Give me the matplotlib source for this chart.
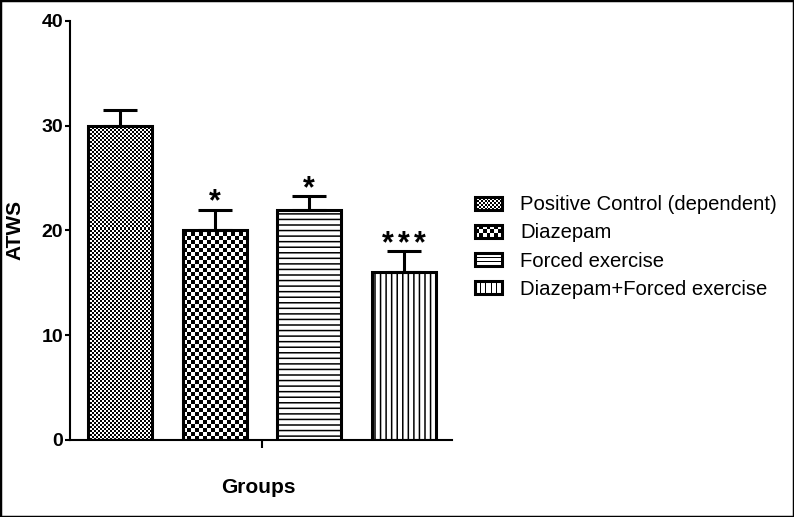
import matplotlib.pyplot as plt
import numpy as np
from matplotlib.patches import Rectangle
from matplotlib.legend_handler import HandlerBase

plt.rcParams['font.family'] = ['Liberation Sans', 'DejaVu Sans']
plt.rcParams['hatch.linewidth'] = 1.1

# dados
groups = ['Positive Control (dependent)', 'Diazepam', 'Forced exercise',
          'Diazepam+Forced exercise']
means = [30, 20, 22, 16]
sem = [1.5, 2.0, 1.3, 2.0]
n_stars = [0, 1, 1, 3]
kinds = ['fine', 'checker', 'hlines', 'vlines']


def checker_array(nx, ny):
    i, j = np.indices((ny, nx))
    return (i + j) % 2


class PatternHandler(HandlerBase):
    # desenha o pequeno quadrado da legenda com o padrao
    def __init__(self, kind):
        super().__init__()
        self.kind = kind

    def create_artists(self, legend, orig_handle, xdescent, ydescent,
                       width, height, fontsize, trans):
        x0, y0 = -xdescent, -ydescent
        arts = [Rectangle((x0, y0), width, height, fc='white', ec='none',
                          transform=trans)]
        if self.kind in ('fine', 'checker'):
            n = 14 if self.kind == 'fine' else 7
            cw = width / n
            m = max(int(round(height / cw)), 1)
            ch = height / m
            for a in range(n):
                for b in range(m):
                    if (a + b) % 2:
                        arts.append(Rectangle((x0 + a * cw, y0 + b * ch), cw, ch,
                                              fc='black', ec='none', transform=trans))
        elif self.kind == 'hlines':
            for k in range(1, 3):
                yy = y0 + height * k / 3
                arts.append(Rectangle((x0, yy - 0.4), width, 0.8, fc='black',
                                      ec='none', transform=trans))
        else:
            for k in range(1, 5):
                xx = x0 + width * k / 5
                arts.append(Rectangle((xx - 0.4, y0), 0.8, height, fc='black',
                                      ec='none', transform=trans))
        arts.append(Rectangle((x0, y0), width, height, fc='none', ec='black',
                              lw=2.2, transform=trans))
        return arts


fig = plt.figure(figsize=(7.94, 5.17), dpi=100)
ax = fig.add_axes([70 / 794, 1 - 440 / 517, 382 / 794, 419 / 517])

x = np.arange(len(groups))
ax.set_xlim(-0.53, 3.51)
ax.set_ylim(0, 40)

bars = ax.bar(x, means, width=0.676, facecolor='none', edgecolor='black',
              linewidth=2.2, zorder=2)
bars[2].set_hatch('---')
bars[3].set_hatch('|||')

# preenchimento xadrez com imagem recortada pela barra
inv = ax.transData.inverted()
for r, kind in zip(bars, kinds):
    if kind not in ('fine', 'checker'):
        continue
    x0, w, h = r.get_x(), r.get_width(), r.get_height()
    p0 = np.round(ax.transData.transform((x0, 0)))
    p1 = ax.transData.transform((x0 + w, h))
    cell = 2 if kind == 'fine' else 4
    nx = int(np.ceil((p1[0] - p0[0]) / cell)) + 1
    ny = int(np.ceil((p1[1] - p0[1]) / cell)) + 1
    q0 = inv.transform(p0)
    q1 = inv.transform(p0 + np.array([nx * cell, ny * cell]))
    im = ax.imshow(checker_array(nx, ny), extent=(q0[0], q1[0], q0[1], q1[1]),
                   cmap='gray_r', interpolation='nearest', aspect='auto',
                   origin='lower', zorder=1)
    im.set_clip_path(r)

ax.set_xlim(-0.53, 3.51)
ax.set_ylim(0, 40)

ax.errorbar(x, means, yerr=[np.zeros(len(sem)), sem], fmt='none',
            ecolor='black', elinewidth=2.2, capsize=12, capthick=2.2,
            zorder=1.8)

# asteriscos de significancia
for xi, m, s, n in zip(x, means, sem, n_stars):
    for k in range(n):
        dx = (k - (n - 1) / 2) * 11.2
        ax.annotate('*', (xi, m + s), xytext=(dx, -0.6),
                    textcoords='offset points', ha='center', va='baseline',
                    fontsize=22, fontweight='bold')

ax.spines['top'].set_visible(False)
ax.spines['right'].set_visible(False)
ax.spines['left'].set_linewidth(1.5)
ax.spines['bottom'].set_linewidth(1.5)

ax.set_yticks([0, 10, 20, 30, 40])
ax.tick_params(axis='y', length=3.6, width=1.5, pad=1.5, labelsize=14)
for lab in ax.get_yticklabels():
    lab.set_fontweight('bold')
ax.set_xticks([1.5])
ax.set_xticklabels([''])
ax.tick_params(axis='x', length=5.8, width=1.5)

ax.set_ylabel('ATWS', fontsize=15, fontweight='bold')
ax.yaxis.set_label_coords(24 / 794, 1 - 230 / 517, transform=fig.transFigure)
ax.set_xlabel('Groups', fontsize=15, fontweight='bold')
ax.xaxis.set_label_coords(258 / 794, 1 - 478 / 517, transform=fig.transFigure)

leg = ax.legend(list(bars), groups, loc='center left',
                bbox_to_anchor=(475 / 794, 1 - 247 / 517),
                bbox_transform=fig.transFigure, frameon=False, fontsize=14.6,
                handlelength=1.33, handleheight=0.6, handletextpad=0.9,
                labelspacing=0.45, borderpad=0, borderaxespad=0,
                handler_map={b: PatternHandler(k) for b, k in zip(bars, kinds)})

fig.patches.append(Rectangle((0, 0), 1, 1, transform=fig.transFigure,
                             fill=False, ec='black', lw=2.5))

fig.savefig('out.png', dpi=100)
